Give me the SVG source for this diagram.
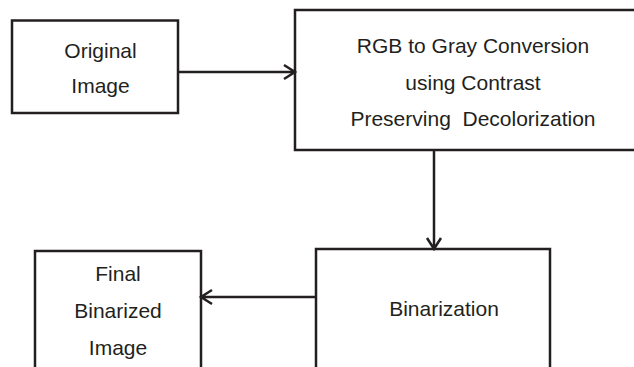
<svg xmlns="http://www.w3.org/2000/svg" width="634" height="367" viewBox="0 0 634 367">
<style>
.box{fill:#fff;stroke:#231f20;stroke-width:2.5}
.ln{fill:none;stroke:#231f20;stroke-width:2.5}
text{font-family:"Liberation Sans",Arial,sans-serif;font-size:21px;fill:#231f20;text-anchor:middle}
</style>
<rect width="634" height="367" fill="#fff"/>
<g id="original">
<rect class="box" x="12" y="20.5" width="166" height="92.5"/>
<text x="100.5" y="58">Original</text>
<text x="100.5" y="93">Image</text>
</g>
<g id="rgb2gray">
<rect class="box" x="295" y="10" width="360" height="140"/>
<text x="473" y="53">RGB to Gray Conversion</text>
<text x="473" y="89.5">using Contrast</text>
<text x="473" y="126" xml:space="preserve">Preserving  Decolorization</text>
</g>
<g id="binarization">
<rect class="box" x="316" y="249" width="234" height="140"/>
<text x="444" y="316">Binarization</text>
</g>
<g id="final">
<rect class="box" x="35" y="251" width="166" height="140"/>
<text x="118" y="281">Final</text>
<text x="118" y="318">Binarized</text>
<text x="118" y="355">Image</text>
</g>
<g id="connectors">
<path class="ln" d="M178,72 H295 M284,65 L295,72 L284,79"/>
<path class="ln" d="M434,150 V249 M427,238 L434,249 L441,238"/>
<path class="ln" d="M316,297 H201 M212,290 L201,297 L212,304"/>
</g>
</svg>
